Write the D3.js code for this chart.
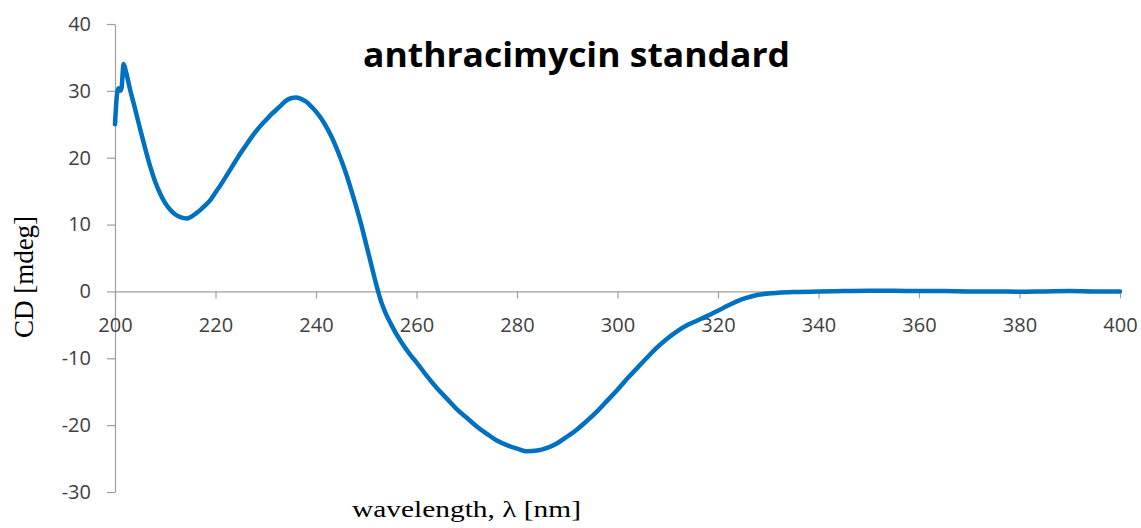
<!DOCTYPE html>
<html>
<head>
<meta charset="utf-8">
<script src="https://cdn.jsdelivr.net/npm/d3@7"></script>
<style>
  html, body { margin: 0; padding: 0; background: #fff; }
  svg { display: block; }
</style>
</head>
<body>
<svg id="chart" width="1141" height="528"></svg>
<script>
// CD spectrum of the anthracimycin standard
const wavelength = [
  200.0, 200.4, 200.7, 201.0, 201.3, 201.7, 202.2, 203, 204, 205,
  206, 207, 208, 209, 210, 211, 212, 213, 214.3,
  215, 216, 217, 218, 219, 220, 221, 222, 223, 224,
  225, 226, 227, 228, 229, 230, 231, 232, 233, 234,
  235, 236, 237, 238, 239, 240, 241, 242, 243, 244,
  245, 246, 247, 248, 249, 250, 251, 252, 253, 254,
  255, 256, 257, 258, 259, 260, 262, 264, 266, 268,
  270, 272, 274, 276, 278, 280, 282, 284, 286, 288,
  290, 292, 294, 296, 298, 300, 302, 304, 306, 308,
  310, 312, 314, 316, 318, 320, 322, 324, 326, 328,
  330, 332, 335, 340, 345, 350, 355, 360, 365, 370,
  375, 380, 385, 390, 395, 400
];
const cdMdeg = [
  25.0, 29.5, 30.4, 30.0, 30.4, 34.0, 32.8, 30.2, 27.3, 24.3,
  21.4, 18.7, 16.4, 14.6, 13.2, 12.2, 11.5, 11.1, 10.9,
  11.1, 11.6, 12.2, 12.9, 13.7, 14.8, 15.9, 17.1, 18.3, 19.5,
  20.7, 21.8, 22.9, 23.9, 24.8, 25.6, 26.4, 27.1, 27.8, 28.5,
  28.9, 29.0, 28.8, 28.4, 27.7, 26.9, 25.9, 24.7, 23.3, 21.6,
  19.7, 17.6, 15.2, 12.7, 10.0, 7.0, 4.0, 1.0, -1.6, -3.5,
  -5.0, -6.4, -7.6, -8.7, -9.7, -10.6, -12.6, -14.4, -16.0, -17.6,
  -18.9, -20.2, -21.3, -22.3, -23.0, -23.5, -23.9, -23.8, -23.4, -22.7,
  -21.7, -20.6, -19.3, -17.9, -16.3, -14.7, -13.0, -11.4, -9.8, -8.3,
  -7.0, -5.9, -5.0, -4.3, -3.6, -2.9, -2.1, -1.4, -0.9, -0.5,
  -0.3, -0.2, -0.1, 0.0, 0.05, 0.1, 0.1, 0.05, 0.05, 0.0,
  0.0, -0.05, 0.0, 0.05, 0.0, 0.0
];
const xTicks = [200, 220, 240, 260, 280, 300, 320, 340, 360, 380, 400];
const yTicks = [-30, -20, -10, 0, 10, 20, 30, 40];

const titleText = "anthracimycin standard";
const xTitle = "wavelength, \u03bb [nm]";
const yTitle = "CD [mdeg]";

const svg = d3.select("#chart");
const axisColor = "#a0a0a0";
const labelColor = "#404040";
const plainNumber = d => String(d);

const x = d3.scaleLinear().domain([200, 400]).range([115, 1120]);
const y = d3.scaleLinear().domain([-30, 40]).range([492, 24]);

// y axis
const yAxis = svg.append("g")
  .attr("transform", `translate(${x(200)},0)`)
  .call(d3.axisLeft(y).tickValues(yTicks).tickFormat(plainNumber)
    .tickSize(8).tickSizeOuter(0).tickPadding(16));

// x axis along CD = 0
const xAxis = svg.append("g")
  .attr("transform", `translate(0,${y(0)})`)
  .call(d3.axisBottom(x).tickValues(xTicks).tickFormat(plainNumber)
    .tickSize(7).tickSizeOuter(0).tickPadding(19));

[yAxis, xAxis].forEach(g => {
  g.select(".domain").attr("stroke", axisColor).attr("stroke-width", 1.2);
  g.selectAll(".tick line").attr("stroke", axisColor).attr("stroke-width", 1.2);
  g.selectAll(".tick text")
    .attr("fill", labelColor)
    .style("font-family", "'Open Sans', sans-serif")
    .style("font-size", "20px");
});

// spectrum
const pts = wavelength.map((w, i) => [w, cdMdeg[i]]);
const line = d3.line()
  .x(d => x(d[0]))
  .y(d => y(d[1]))
  .curve(d3.curveMonotoneX);

svg.append("path")
  .datum(pts)
  .attr("d", line)
  .attr("fill", "none")
  .attr("stroke", "#0070c0")
  .attr("stroke-width", 4.5)
  .attr("stroke-linejoin", "round")
  .attr("stroke-linecap", "round");

// title
svg.append("text")
  .attr("x", 576.5)
  .attr("y", 67)
  .attr("text-anchor", "middle")
  .attr("textLength", 427)
  .attr("lengthAdjust", "spacingAndGlyphs")
  .style("font-family", "'Open Sans', sans-serif")
  .style("font-weight", "bold")
  .style("font-size", "34px")
  .attr("fill", "#000")
  .text(titleText);

// axis titles
svg.append("text")
  .attr("transform", "translate(33,277) rotate(-90)")
  .attr("text-anchor", "middle")
  .style("font-family", "'Liberation Serif', 'Times New Roman', serif")
  .style("font-size", "27px")
  .attr("fill", "#000")
  .text(yTitle);

svg.append("text")
  .attr("x", 466.5)
  .attr("y", 516.5)
  .attr("text-anchor", "middle")
  .attr("textLength", 229)
  .attr("lengthAdjust", "spacingAndGlyphs")
  .style("font-family", "'Liberation Serif', 'Times New Roman', serif")
  .style("font-size", "23px")
  .attr("fill", "#000")
  .text(xTitle);
</script>
</body>
</html>
